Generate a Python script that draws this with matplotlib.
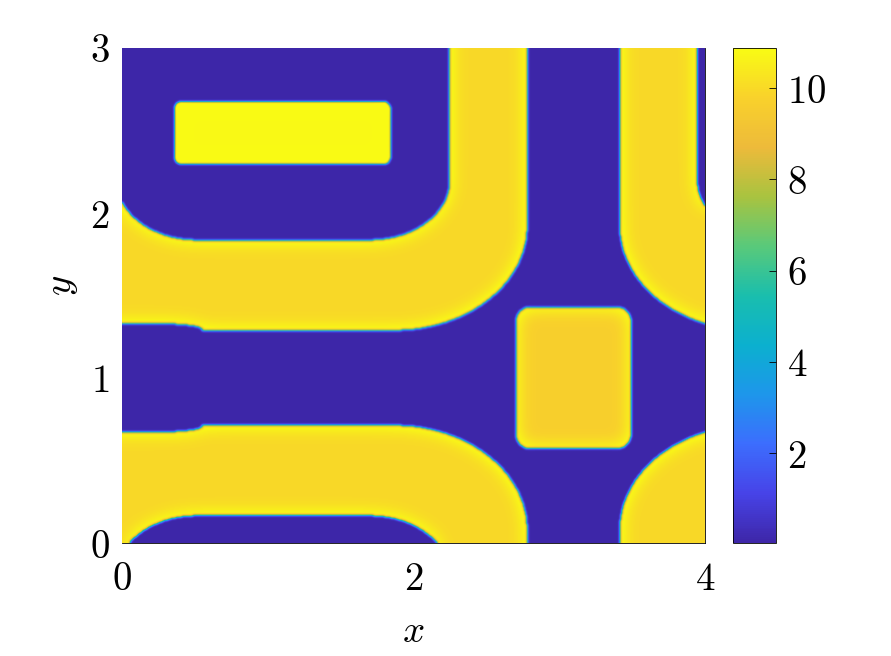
import numpy as np
import matplotlib
matplotlib.use("Agg")
import matplotlib.pyplot as plt
from matplotlib.colors import LinearSegmentedColormap

plt.rcParams['mathtext.fontset'] = 'cm'
plt.rcParams['font.family'] = 'serif'

# colour limits of the field
field_min = 0.03
field_max = 10.88

# the pattern is mirror symmetric about x = 3.1 and y = 1.0
fold_x = 3.1
fold_y = 1.0

# rounded rectangles in folded coords u = |x - fold_x|, v = |y - fold_y|, painted in order
shape_names = ['band', 'notch', 'hole', 'bar', 'square']
shape_u0 = [0.32, 2.55, 0.85, 1.26, -0.395]
shape_u1 = [5.00, 3.40, 3.14, 2.74, 0.395]
shape_v0 = [0.29, 0.26, 0.836, 1.30, -0.43]
shape_v1 = [4.00, 0.33, 4.00, 1.675, 0.43]
shape_rx = [0.91, 0.30, 0.55, 0.04, 0.10]
shape_ry = [0.63, 0.035, 0.36, 0.04, 0.09]
shape_level = [9.95, 0.03, 0.03, 10.8, 9.7]

x_ticks = [0, 2, 4]
y_ticks = [0, 1, 2, 3]
cbar_ticks = [2, 4, 6, 8, 10]

# parula-like colormap
parula_pos = [0.0, 0.1, 0.2, 0.3, 0.4, 0.5, 0.6, 0.7, 0.8, 0.9, 1.0]
parula_rgb = [(0.2422, 0.1504, 0.6603), (0.2780, 0.2650, 0.9100), (0.2350, 0.4300, 0.9950),
              (0.1150, 0.5900, 0.9200), (0.0450, 0.6900, 0.8100), (0.1000, 0.7450, 0.6800),
              (0.3500, 0.7900, 0.4800), (0.6600, 0.7650, 0.2500), (0.9300, 0.7300, 0.2300),
              (0.9750, 0.8200, 0.1700), (0.9769, 0.9839, 0.0805)]
parula = LinearSegmentedColormap.from_list('parula', list(zip(parula_pos, parula_rgb)), N=256)


def rounded_rect(U, V, u0, u1, v0, v1, rx, ry):
    du = np.maximum(np.maximum(u0 + rx - U, U - (u1 - rx)), 0)
    dv = np.maximum(np.maximum(v0 + ry - V, V - (v1 - ry)), 0)
    box = (U >= u0) & (U <= u1) & (V >= v0) & (V <= v1)
    return box & ((du / rx) ** 2 + (dv / ry) ** 2 <= 1)


def blur(a, sigma):
    r = int(3 * sigma) + 1
    t = np.arange(-r, r + 1)
    k = np.exp(-0.5 * (t / sigma) ** 2)
    k /= k.sum()
    p = np.pad(a, r, mode='edge')
    p = np.apply_along_axis(lambda m: np.convolve(m, k, mode='valid'), 0, p)
    p = np.apply_along_axis(lambda m: np.convolve(m, k, mode='valid'), 1, p)
    return p


xs = np.linspace(0, 4, 584)
ys = np.linspace(0, 3, 496)
X, Y = np.meshgrid(xs, ys)
U = np.abs(X - fold_x)
V = np.abs(Y - fold_y)

field = np.full(X.shape, field_min)
for i in range(len(shape_names)):
    m = rounded_rect(U, V, shape_u0[i], shape_u1[i], shape_v0[i], shape_v1[i], shape_rx[i], shape_ry[i])
    field[m] = shape_level[i]

# yellow gets a bit brighter near its edges
yellow = (field > 5).astype(float)
edge = np.clip(yellow - blur(yellow, 9.0), 0, None)
field = field + 2.0 * edge * yellow
field = blur(field, 1.2)
field = np.clip(field, field_min, field_max)

fig = plt.figure(figsize=(8.91, 6.56), dpi=100)
ax = fig.add_axes([122 / 891, 1 - 543 / 656, 583 / 891, 495 / 656])
cax = fig.add_axes([733 / 891, 1 - 543 / 656, 43 / 891, 495 / 656])

im = ax.imshow(field, origin='lower', extent=[0, 4, 0, 3], aspect='auto',
               cmap=parula, vmin=field_min, vmax=field_max, interpolation='bilinear')
ax.set_xlim(0, 4)
ax.set_ylim(0, 3)
ax.set_xticks(x_ticks)
ax.set_xticklabels([f'${t}$' for t in x_ticks])
ax.set_yticks(y_ticks)
ax.set_yticklabels([f'${t}$' for t in y_ticks])
ax.tick_params(axis='x', length=0, labelsize=28, pad=13)
ax.tick_params(axis='y', length=0, labelsize=28, pad=9)
for s in ax.spines.values():
    s.set_linewidth(0.6)
ax.spines['top'].set_visible(False)
ax.spines['left'].set_visible(False)

ax.set_xlabel('$x$', fontsize=28)
ax.xaxis.set_label_coords(0.5, -(632 - 543) / 495)
ax.xaxis.label.set_va('center')
ax.set_ylabel('$y$', fontsize=28)
ax.yaxis.set_label_coords((62 - 122) / 583, 0.52)
ax.yaxis.label.set_va('center')
ax.yaxis.label.set_ha('center')

cb = fig.colorbar(im, cax=cax, ticks=cbar_ticks)
cb.ax.set_yticklabels([f'${t}$' for t in cbar_ticks])
cb.ax.tick_params(direction='in', length=5, width=0.6, labelsize=28, pad=8)
cb.outline.set_linewidth(0.6)

fig.savefig('out.png', dpi=100)
